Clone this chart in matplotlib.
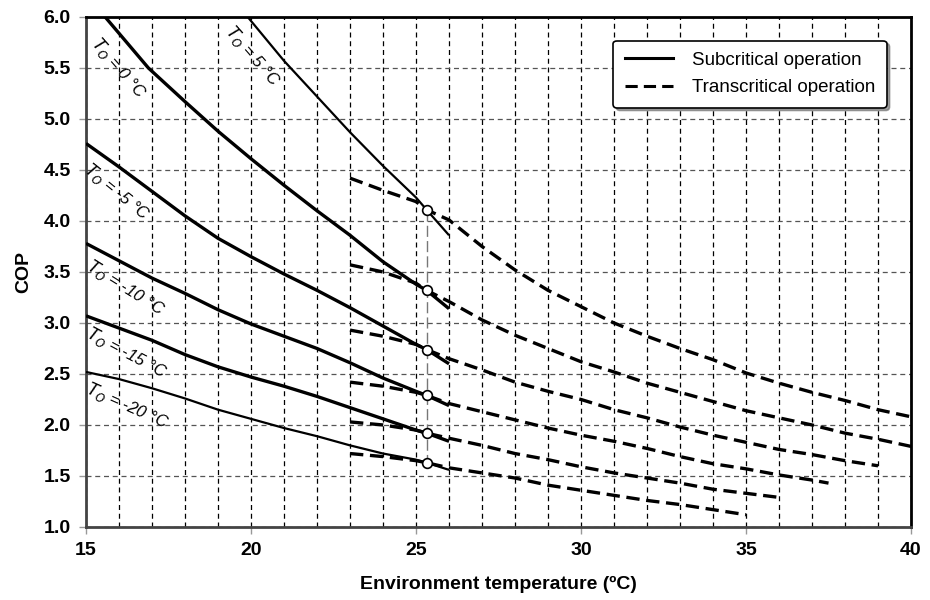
import numpy as np
import matplotlib

matplotlib.use('Agg')
import matplotlib.pyplot as plt
from matplotlib.ticker import MultipleLocator, FormatStrFormatter

# evaporation temperatures of the six curves
evap_temps = [5, 0, -5, -10, -15, -20]

# subcritical operation (solid lines): environment temperature -> COP
sub_x = [
    [19.9, 21, 22, 23, 24, 25, 25.32, 26],
    [15.58, 16.89, 18, 19, 20, 21, 22, 23, 24, 25, 25.32, 26],
    [15, 16, 17, 18, 19, 20, 21, 22, 23, 24, 25, 25.32, 26],
    [15, 16, 17, 18, 19, 20, 21, 22, 23, 24, 25, 25.32, 26],
    [15, 16, 17, 18, 19, 20, 21, 22, 23, 24, 25, 25.32, 26],
    [15, 16, 17, 18, 19, 20, 21, 22, 23, 24, 25, 25.32, 26],
]
sub_cop = [
    [6.0, 5.57, 5.22, 4.87, 4.54, 4.23, 4.11, 3.86],
    [6.0, 5.5, 5.17, 4.88, 4.61, 4.35, 4.10, 3.86, 3.60, 3.38, 3.32, 3.14],
    [4.76, 4.53, 4.29, 4.05, 3.83, 3.65, 3.48, 3.32, 3.15, 2.97, 2.79, 2.74, 2.60],
    [3.78, 3.61, 3.44, 3.29, 3.13, 2.99, 2.87, 2.75, 2.61, 2.46, 2.33, 2.29, 2.19],
    [3.07, 2.95, 2.83, 2.69, 2.57, 2.47, 2.38, 2.28, 2.17, 2.06, 1.95, 1.92, 1.84],
    [2.52, 2.45, 2.36, 2.26, 2.15, 2.06, 1.97, 1.89, 1.80, 1.72, 1.66, 1.63, 1.56],
]

# transcritical operation (dashed lines)
trans_x = [
    [23, 24, 25, 25.32, 26, 27, 28, 29, 30, 31, 32, 33, 34, 35, 36, 37, 38, 39, 40],
    [23, 24, 25, 25.32, 26, 27, 28, 29, 30, 31, 32, 33, 34, 35, 36, 37, 38, 39, 40],
    [23, 24, 25, 25.32, 26, 27, 28, 29, 30, 31, 32, 33, 34, 35, 36, 37, 38, 39],
    [23, 24, 25, 25.32, 26, 27, 28, 29, 30, 31, 32, 33, 34, 35, 36, 37, 37.5],
    [23, 24, 25, 25.32, 26, 27, 28, 29, 30, 31, 32, 33, 34, 35, 36],
    [23, 24, 25, 25.32, 26, 27, 28, 29, 30, 31, 32, 33, 34, 35],
]
trans_cop = [
    [4.42, 4.30, 4.19, 4.11, 4.01, 3.75, 3.52, 3.32, 3.16, 3.00, 2.87, 2.75, 2.64, 2.51, 2.41, 2.32, 2.24, 2.15, 2.08],
    [3.57, 3.50, 3.39, 3.32, 3.21, 3.03, 2.88, 2.75, 2.62, 2.52, 2.41, 2.32, 2.23, 2.14, 2.07, 2.00, 1.92, 1.86, 1.79],
    [2.93, 2.87, 2.79, 2.74, 2.65, 2.54, 2.42, 2.33, 2.25, 2.15, 2.07, 1.98, 1.90, 1.83, 1.76, 1.71, 1.65, 1.60],
    [2.42, 2.38, 2.32, 2.29, 2.21, 2.13, 2.05, 1.97, 1.90, 1.84, 1.77, 1.69, 1.62, 1.57, 1.51, 1.46, 1.43],
    [2.03, 2.00, 1.95, 1.92, 1.87, 1.80, 1.72, 1.66, 1.59, 1.53, 1.48, 1.43, 1.37, 1.33, 1.29],
    [1.72, 1.69, 1.65, 1.63, 1.58, 1.53, 1.48, 1.41, 1.36, 1.31, 1.26, 1.22, 1.17, 1.12],
]

# switch points between the two regimes
switch_x = [25.32, 25.32, 25.32, 25.32, 25.32, 25.32]
switch_cop = [4.11, 3.32, 2.74, 2.29, 1.92, 1.63]

# curve label placement (x, y, rotation)
label_pos = [(20.05, 5.62, -49), (16.0, 5.5, -49), (15.95, 4.28, -39),
             (16.2, 3.34, -32), (16.24, 2.71, -28), (16.24, 2.19, -24)]

sub_widths = [1.6, 2.4, 2.4, 2.4, 2.4, 1.6]

plt.rcParams['font.family'] = ['Liberation Sans', 'DejaVu Sans']

fig = plt.figure(figsize=(9.3, 6.0), dpi=100)
ax = fig.add_axes([0.0925, 0.1217, 0.8871, 0.85])

for i, t in enumerate(evap_temps):
    ax.plot(sub_x[i], sub_cop[i], color='black', lw=sub_widths[i],
            solid_capstyle='butt', solid_joinstyle='round', zorder=3)
    ax.plot(trans_x[i], trans_cop[i], color='black', lw=2.4,
            dashes=(4, 2), zorder=3)

# legend entries
ax.plot([], [], color='black', lw=2.2, label='Subcritical operation')
ax.plot([], [], color='black', lw=2.2, dashes=(4, 2), label='Transcritical operation')

# boundary between the regimes
ax.plot([switch_x[0], switch_x[-1]], [switch_cop[0], switch_cop[-1]],
        color='#777777', lw=1.0, dashes=(8, 3), zorder=2)
ax.plot(switch_x, switch_cop, 'o', ms=7, mfc='white', mec='black', mew=1.2, zorder=4)

for t, (lx, ly, rot) in zip(evap_temps, label_pos):
    ax.text(lx, ly, r'$T_O$ = %d °C' % t, rotation=rot, rotation_mode='anchor',
            ha='center', va='center', fontsize=12, style='italic', zorder=5)

ax.set_xlim(15, 40)
ax.set_ylim(1.0, 6.0)
ax.xaxis.set_major_locator(MultipleLocator(5))
ax.xaxis.set_minor_locator(MultipleLocator(1))
ax.yaxis.set_major_locator(MultipleLocator(0.5))
ax.yaxis.set_major_formatter(FormatStrFormatter('%.1f'))

ax.grid(True, which='both', axis='x', color='black', lw=0.9, dashes=(4, 3))
ax.grid(True, which='major', axis='y', color='#555555', lw=0.9, dashes=(4, 3))
ax.set_axisbelow(True)

ax.tick_params(axis='both', which='major', direction='out', length=5, width=1,
               color='#999999', labelsize=14, pad=6)
ax.tick_params(axis='x', which='minor', length=0)
for lab in ax.get_xticklabels() + ax.get_yticklabels():
    lab.set_fontweight('bold')

for side in ['top', 'right']:
    ax.spines[side].set_color('black')
    ax.spines[side].set_linewidth(2)
for side in ['left', 'bottom']:
    ax.spines[side].set_color('#444444')
    ax.spines[side].set_linewidth(2)

ax.set_xlabel('Environment temperature (ºC)', fontsize=14, fontweight='bold', labelpad=12)
ax.set_ylabel('COP', fontsize=14, fontweight='bold', labelpad=8)

leg = ax.legend(loc='upper right', bbox_to_anchor=(0.982, 0.972), fontsize=13.5,
                frameon=True, fancybox=True, shadow=True, handlelength=2.6,
                borderpad=0.6, labelspacing=0.55, handletextpad=1.0)
leg.get_frame().set_edgecolor('black')
leg.get_frame().set_linewidth(1.2)

fig.savefig('out.png', dpi=100)
